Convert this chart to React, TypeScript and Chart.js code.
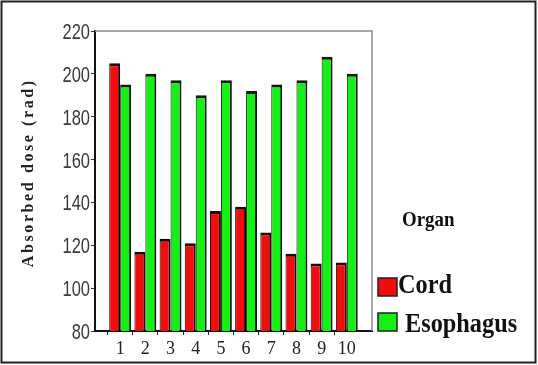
import React, { useEffect, useRef } from 'react';
import { Chart, registerables } from 'chart.js';

Chart.register(...registerables);

const categories = ['1', '2', '3', '4', '5', '6', '7', '8', '9', '10'];
const cordDose = [205, 117, 123, 121, 136, 138, 126, 116, 111.5, 112];
const esophagusDose = [195, 200, 197, 190, 197, 192, 195, 197, 208, 200];
const seriesNames = ['Cord', 'Esophagus'];
const seriesColors = ['#f20d0d', '#14f014'];
const yMin = 80;
const yMax = 220;
const yStep = 20;
const legendTitle = 'Organ';
const yTitle = 'Absorbed dose (rad)';

const W = 538;
const H = 365;

const decorPlugin = {
  id: 'decor',
  afterDraw(chart: any) {
    const ctx = chart.ctx as CanvasRenderingContext2D;
    const area = chart.chartArea;
    ctx.save();
    // outer frame
    ctx.strokeStyle = '#222';
    ctx.lineWidth = 2;
    ctx.strokeRect(1.5, 1.5, 534, 361);
    // top / right plot frame
    ctx.strokeStyle = '#8a8a8a';
    ctx.lineWidth = 1.5;
    ctx.beginPath();
    ctx.moveTo(area.left, area.top);
    ctx.lineTo(area.right, area.top);
    ctx.lineTo(area.right, area.bottom);
    ctx.stroke();

    // y tick labels (condensed look), from the library's y scale
    const ys = chart.scales.y;
    ctx.save();
    ctx.font = '22px "Liberation Sans", Arial, sans-serif';
    ctx.fillStyle = '#3a3a3a';
    ctx.textBaseline = 'middle';
    ys.ticks.forEach((t: any) => {
      const label = String(t.label ?? t.value);
      const py = ys.getPixelForValue(t.value);
      const w = ctx.measureText(label).width * 0.75;
      ctx.save();
      ctx.translate(ys.right - 5 - w, py + 2);
      ctx.scale(0.75, 1);
      ctx.textAlign = 'left';
      ctx.fillText(label, 0, 0);
      ctx.restore();
    });
    ctx.restore();

    // y title with letter spacing
    ctx.save();
    ctx.fillStyle = '#222';
    ctx.font = 'bold 16px "Liberation Serif", "Times New Roman", serif';
    const spacing = 2.6;
    const chars = Array.from(yTitle);
    const widths = chars.map((c) => ctx.measureText(c).width);
    const total = widths.reduce((a, b) => a + b, 0) + spacing * (chars.length - 1);
    ctx.translate(33, 174);
    ctx.rotate(-Math.PI / 2);
    ctx.textAlign = 'left';
    ctx.textBaseline = 'alphabetic';
    let cx = -total / 2;
    chars.forEach((c, i) => {
      ctx.fillText(c, cx, 0);
      cx += widths[i] + spacing;
    });
    ctx.restore();

    // legend
    const drawScaled = (text: string, x: number, y: number, font: string) => {
      ctx.save();
      ctx.font = font;
      ctx.fillStyle = '#111';
      ctx.textAlign = 'left';
      ctx.textBaseline = 'alphabetic';
      ctx.translate(x, y);
      ctx.scale(0.9, 1);
      ctx.fillText(text, 0, 0);
      ctx.restore();
    };
    drawScaled(legendTitle, 402, 226, 'bold 21px "Liberation Serif", serif');
    const items = chart.data.datasets;
    const boxY = [278, 313];
    const textX = [398, 405];
    const baseY = [293, 332];
    items.forEach((ds: any, i: number) => {
      ctx.fillStyle = ds.backgroundColor;
      ctx.fillRect(378, boxY[i], 19, 18);
      ctx.strokeStyle = '#222';
      ctx.lineWidth = 1.5;
      ctx.strokeRect(378, boxY[i], 19, 18);
      drawScaled(ds.label, textX[i], baseY[i], 'bold 27px "Liberation Serif", serif');
    });
    ctx.restore();
  },
};

export default function App() {
  const ref = useRef<HTMLCanvasElement | null>(null);
  useEffect(() => {
    document.body.style.margin = '0';
    const labels = ['', ...categories, ''];
    const pad = (a: number[]) => [null, ...a, null];
    const lastIdx = labels.length - 1;
    const chart = new Chart(ref.current as HTMLCanvasElement, {
      type: 'bar',
      data: {
        labels,
        datasets: [
          {
            label: seriesNames[0],
            data: pad(cordDose) as any,
            backgroundColor: seriesColors[0],
            borderColor: '#1a0808',
            borderWidth: { top: 3, right: 2, left: 1, bottom: 0 } as any,
            barPercentage: 1,
            categoryPercentage: 0.87,
          },
          {
            label: seriesNames[1],
            data: pad(esophagusDose) as any,
            backgroundColor: seriesColors[1],
            borderColor: '#0a1a0a',
            borderWidth: { top: 3, right: 2, left: 1, bottom: 0 } as any,
            barPercentage: 1,
            categoryPercentage: 0.87,
          },
        ],
      },
      options: {
        responsive: false,
        animation: false,
        layout: { padding: { left: 0, top: 31, right: W - 372, bottom: 0 } },
        plugins: {
          legend: { display: false },
          tooltip: { enabled: false },
          title: { display: false },
        },
        scales: {
          x: {
            type: 'category',
            offset: false,
            grid: {
              display: true,
              drawOnChartArea: false,
              tickLength: 4,
              color: (c: any) => (c.index === 0 || c.index === lastIdx ? 'rgba(0,0,0,0)' : '#222'),
            },
            border: { color: '#111', width: 2 },
            ticks: {
              font: { family: '"Liberation Serif", "Times New Roman", serif', size: 18 },
              color: '#222',
              padding: 3,
              maxRotation: 0,
              autoSkip: false,
            },
            afterFit: (s: any) => {
              s.height = H - 331;
            },
          },
          y: {
            min: yMin,
            max: yMax,
            grid: { display: true, drawOnChartArea: false, tickLength: 4, color: '#333' },
            border: { color: '#111', width: 2 },
            ticks: {
              stepSize: yStep,
              display: false,
            },
            afterFit: (s: any) => {
              s.width = 95;
            },
          },
        },
      },
      plugins: [decorPlugin],
    });
    return () => chart.destroy();
  }, []);
  return (
    <div style={{ width: W, height: H, position: 'relative', background: '#fff' }}>
      <canvas ref={ref} width={W} height={H} style={{ display: 'block' }} />
    </div>
  );
}
